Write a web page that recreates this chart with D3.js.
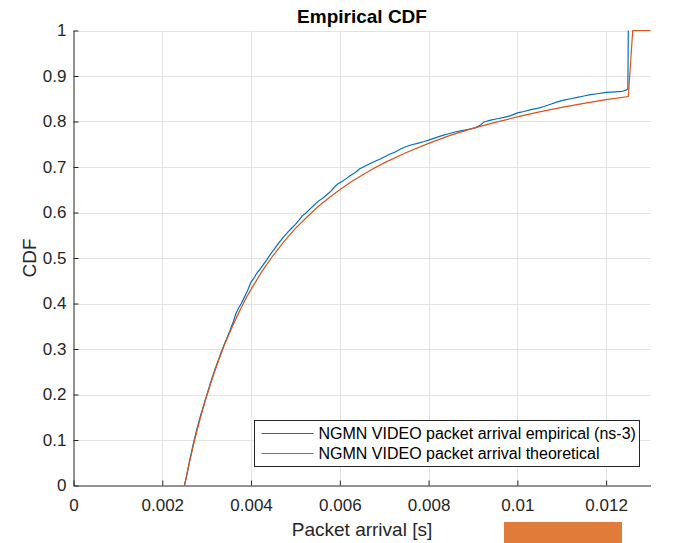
<!DOCTYPE html>
<html>
<head>
<meta charset="utf-8">
<script src="https://cdn.jsdelivr.net/npm/d3@7"></script>
<style>
  html, body { margin: 0; padding: 0; background: #fff; }
  svg { display: block; font-family: Arial, "Liberation Sans", Helvetica, sans-serif; }
</style>
</head>
<body>
<svg id="chart" width="681" height="543"></svg>
<script>
// Packet inter-arrival times [s] and cumulative probability, ns-3 empirical trace
const empiricalX = [0.00250, 0.00256, 0.00262, 0.00270, 0.00278, 0.00286, 0.00292, 0.00298, 0.00305, 0.00312,
  0.00320, 0.00328, 0.00334, 0.00340, 0.00347, 0.00353, 0.00360, 0.00366, 0.00372, 0.00378,
  0.00385, 0.00392, 0.00400, 0.00406, 0.00412, 0.00420, 0.00428, 0.00436, 0.00445, 0.00452,
  0.00460, 0.00468, 0.00475, 0.00484, 0.00492, 0.00500, 0.00508, 0.00515, 0.00525, 0.00533,
  0.00542, 0.00552, 0.00562, 0.00572, 0.00580, 0.00588, 0.00596, 0.00605, 0.00615, 0.00625,
  0.00635, 0.00645, 0.00655, 0.00665, 0.00678, 0.00690, 0.00700, 0.00712, 0.00725, 0.00738,
  0.00750, 0.00762, 0.00775, 0.00790, 0.00800, 0.00815, 0.00830, 0.00845, 0.00860, 0.00875,
  0.00890, 0.00905, 0.00915, 0.00925, 0.00940, 0.00955, 0.00970, 0.00985, 0.01000, 0.01015,
  0.01030, 0.01045, 0.01060, 0.01075, 0.01090, 0.01105, 0.01120, 0.01135, 0.01150, 0.01165,
  0.01180, 0.01200, 0.01220, 0.01235, 0.01245, 0.01249, 0.01250];
const empiricalY = [0.000, 0.026, 0.056, 0.092, 0.124, 0.153, 0.172, 0.192, 0.214, 0.236,
  0.259, 0.280, 0.296, 0.311, 0.327, 0.342, 0.360, 0.378, 0.390, 0.400,
  0.414, 0.428, 0.447, 0.455, 0.465, 0.475, 0.486, 0.497, 0.510, 0.519,
  0.530, 0.540, 0.548, 0.558, 0.566, 0.574, 0.583, 0.592, 0.600, 0.608,
  0.616, 0.625, 0.632, 0.640, 0.647, 0.656, 0.663, 0.668, 0.675, 0.682,
  0.688, 0.696, 0.701, 0.706, 0.712, 0.717, 0.722, 0.728, 0.733, 0.740,
  0.745, 0.749, 0.752, 0.756, 0.759, 0.764, 0.769, 0.773, 0.777, 0.780,
  0.783, 0.786, 0.791, 0.799, 0.803, 0.806, 0.809, 0.813, 0.819, 0.822,
  0.826, 0.829, 0.833, 0.838, 0.843, 0.847, 0.850, 0.853, 0.856, 0.859,
  0.861, 0.864, 0.865, 0.866, 0.869, 0.872, 1.000];

// Theoretical CDF of the truncated Pareto arrival model
const theoreticalX = [0.00250, 0.00260, 0.00270, 0.00280, 0.00290, 0.00300, 0.00310, 0.00320, 0.00330, 0.00340,
  0.00350, 0.00360, 0.00370, 0.00380, 0.00390, 0.00400, 0.00425, 0.00450, 0.00475, 0.00500,
  0.00525, 0.00550, 0.00575, 0.00600, 0.00625, 0.00650, 0.00675, 0.00700, 0.00750, 0.00800,
  0.00850, 0.00900, 0.00950, 0.01000, 0.01050, 0.01100, 0.01150, 0.01200, 0.01250, 0.01260,
  0.01300];
const theoreticalY = [0.000, 0.046, 0.088, 0.127, 0.163, 0.196, 0.227, 0.256, 0.283, 0.309,
  0.332, 0.354, 0.375, 0.395, 0.414, 0.431, 0.471, 0.506, 0.537, 0.565,
  0.589, 0.612, 0.632, 0.650, 0.667, 0.682, 0.696, 0.709, 0.732, 0.752,
  0.770, 0.785, 0.798, 0.810, 0.821, 0.831, 0.840, 0.848, 0.855, 1.000,
  1.000];

const xTicks = [0, 0.002, 0.004, 0.006, 0.008, 0.01, 0.012];
const xTickLabels = ["0", "0.002", "0.004", "0.006", "0.008", "0.01", "0.012"];
const yTicks = [0, 0.1, 0.2, 0.3, 0.4, 0.5, 0.6, 0.7, 0.8, 0.9, 1];
const yTickLabels = ["0", "0.1", "0.2", "0.3", "0.4", "0.5", "0.6", "0.7", "0.8", "0.9", "1"];
const seriesNames = ["NGMN VIDEO packet arrival empirical (ns-3)", "NGMN VIDEO packet arrival theoretical"];
const seriesColors = ["#0072BD", "#D95319"];

const svg = d3.select("#chart");
const plotLeft = 73.5, plotRight = 650.5, plotTop = 30.5, plotBottom = 485.5;

const x = d3.scaleLinear().domain([0, 0.013]).range([plotLeft, plotRight]);
const y = d3.scaleLinear().domain([0, 1]).range([plotBottom, plotTop]);

// grid
const grid = svg.append("g").attr("stroke", "#e3e3e3").attr("stroke-width", 1);
grid.selectAll("line.gx").data(xTicks.slice(1)).join("line")
  .attr("x1", d => Math.round(x(d)) + 0.5).attr("x2", d => Math.round(x(d)) + 0.5)
  .attr("y1", plotTop).attr("y2", plotBottom);
grid.selectAll("line.gy").data(yTicks.slice(1)).join("line")
  .attr("y1", d => Math.round(y(d)) + 0.5).attr("y2", d => Math.round(y(d)) + 0.5)
  .attr("x1", plotLeft).attr("x2", plotRight);

// axes (ticks pointing inward)
const xAxis = d3.axisBottom(x).tickValues(xTicks)
  .tickFormat((d, i) => xTickLabels[i]).tickSizeInner(-5).tickSizeOuter(0).tickPadding(13);
const yAxis = d3.axisLeft(y).tickValues(yTicks)
  .tickFormat((d, i) => yTickLabels[i]).tickSizeInner(-5).tickSizeOuter(0).tickPadding(7);

const gx = svg.append("g").attr("transform", `translate(0,${plotBottom})`).call(xAxis);
const gy = svg.append("g").attr("transform", `translate(${plotLeft},0)`).call(yAxis);
[gx, gy].forEach(g => {
  g.select(".domain").attr("stroke", "#262626").attr("stroke-width", 1);
  g.selectAll(".tick line").attr("stroke", "#262626");
  g.selectAll(".tick text").attr("fill", "#262626").style("font-size", "17px")
    .style("font-family", "Arial, 'Liberation Sans', sans-serif");
});

// series
const line = d3.line().x(d => x(d[0])).y(d => y(d[1]));
const empirical = d3.zip(empiricalX, empiricalY);
const theoretical = d3.zip(theoreticalX, theoreticalY);

const plot = svg.append("g");
plot.append("path").datum(empirical).attr("d", line)
  .attr("fill", "none").attr("stroke", seriesColors[0]).attr("stroke-width", 1.2);
plot.append("path").datum(theoretical).attr("d", line)
  .attr("fill", "none").attr("stroke", seriesColors[1]).attr("stroke-width", 1.2);

// title and axis labels
svg.append("text").attr("x", 362).attr("y", 23).attr("text-anchor", "middle")
  .attr("fill", "#000").style("font-size", "19px").style("font-weight", "bold")
  .text("Empirical CDF");
svg.append("text").attr("x", 362).attr("y", 536).attr("text-anchor", "middle")
  .attr("fill", "#262626").style("font-size", "19px").text("Packet arrival [s]");
svg.append("text").attr("transform", "translate(36,258) rotate(-90)").attr("text-anchor", "middle")
  .attr("fill", "#262626").style("font-size", "19px").text("CDF");

// legend
const lg = svg.append("g").attr("transform", "translate(254.5,420.5)");
lg.append("rect").attr("width", 385).attr("height", 46)
  .attr("fill", "#fff").attr("stroke", "#262626").attr("stroke-width", 1);
seriesNames.forEach((name, i) => {
  const yy = 13 + i * 20;
  lg.append("line").attr("x1", 7).attr("x2", 59).attr("y1", yy).attr("y2", yy)
    .attr("stroke", seriesColors[i]).attr("stroke-width", 1.2);
  lg.append("text").attr("x", 64).attr("y", yy).attr("dy", "0.36em")
    .attr("fill", "#000").style("font-size", "16px").text(name);
});

// marker block below the x axis
svg.append("rect").attr("x", 504).attr("y", 522).attr("width", 118).attr("height", 21)
  .attr("fill", "#E07B39");
</script>
</body>
</html>
